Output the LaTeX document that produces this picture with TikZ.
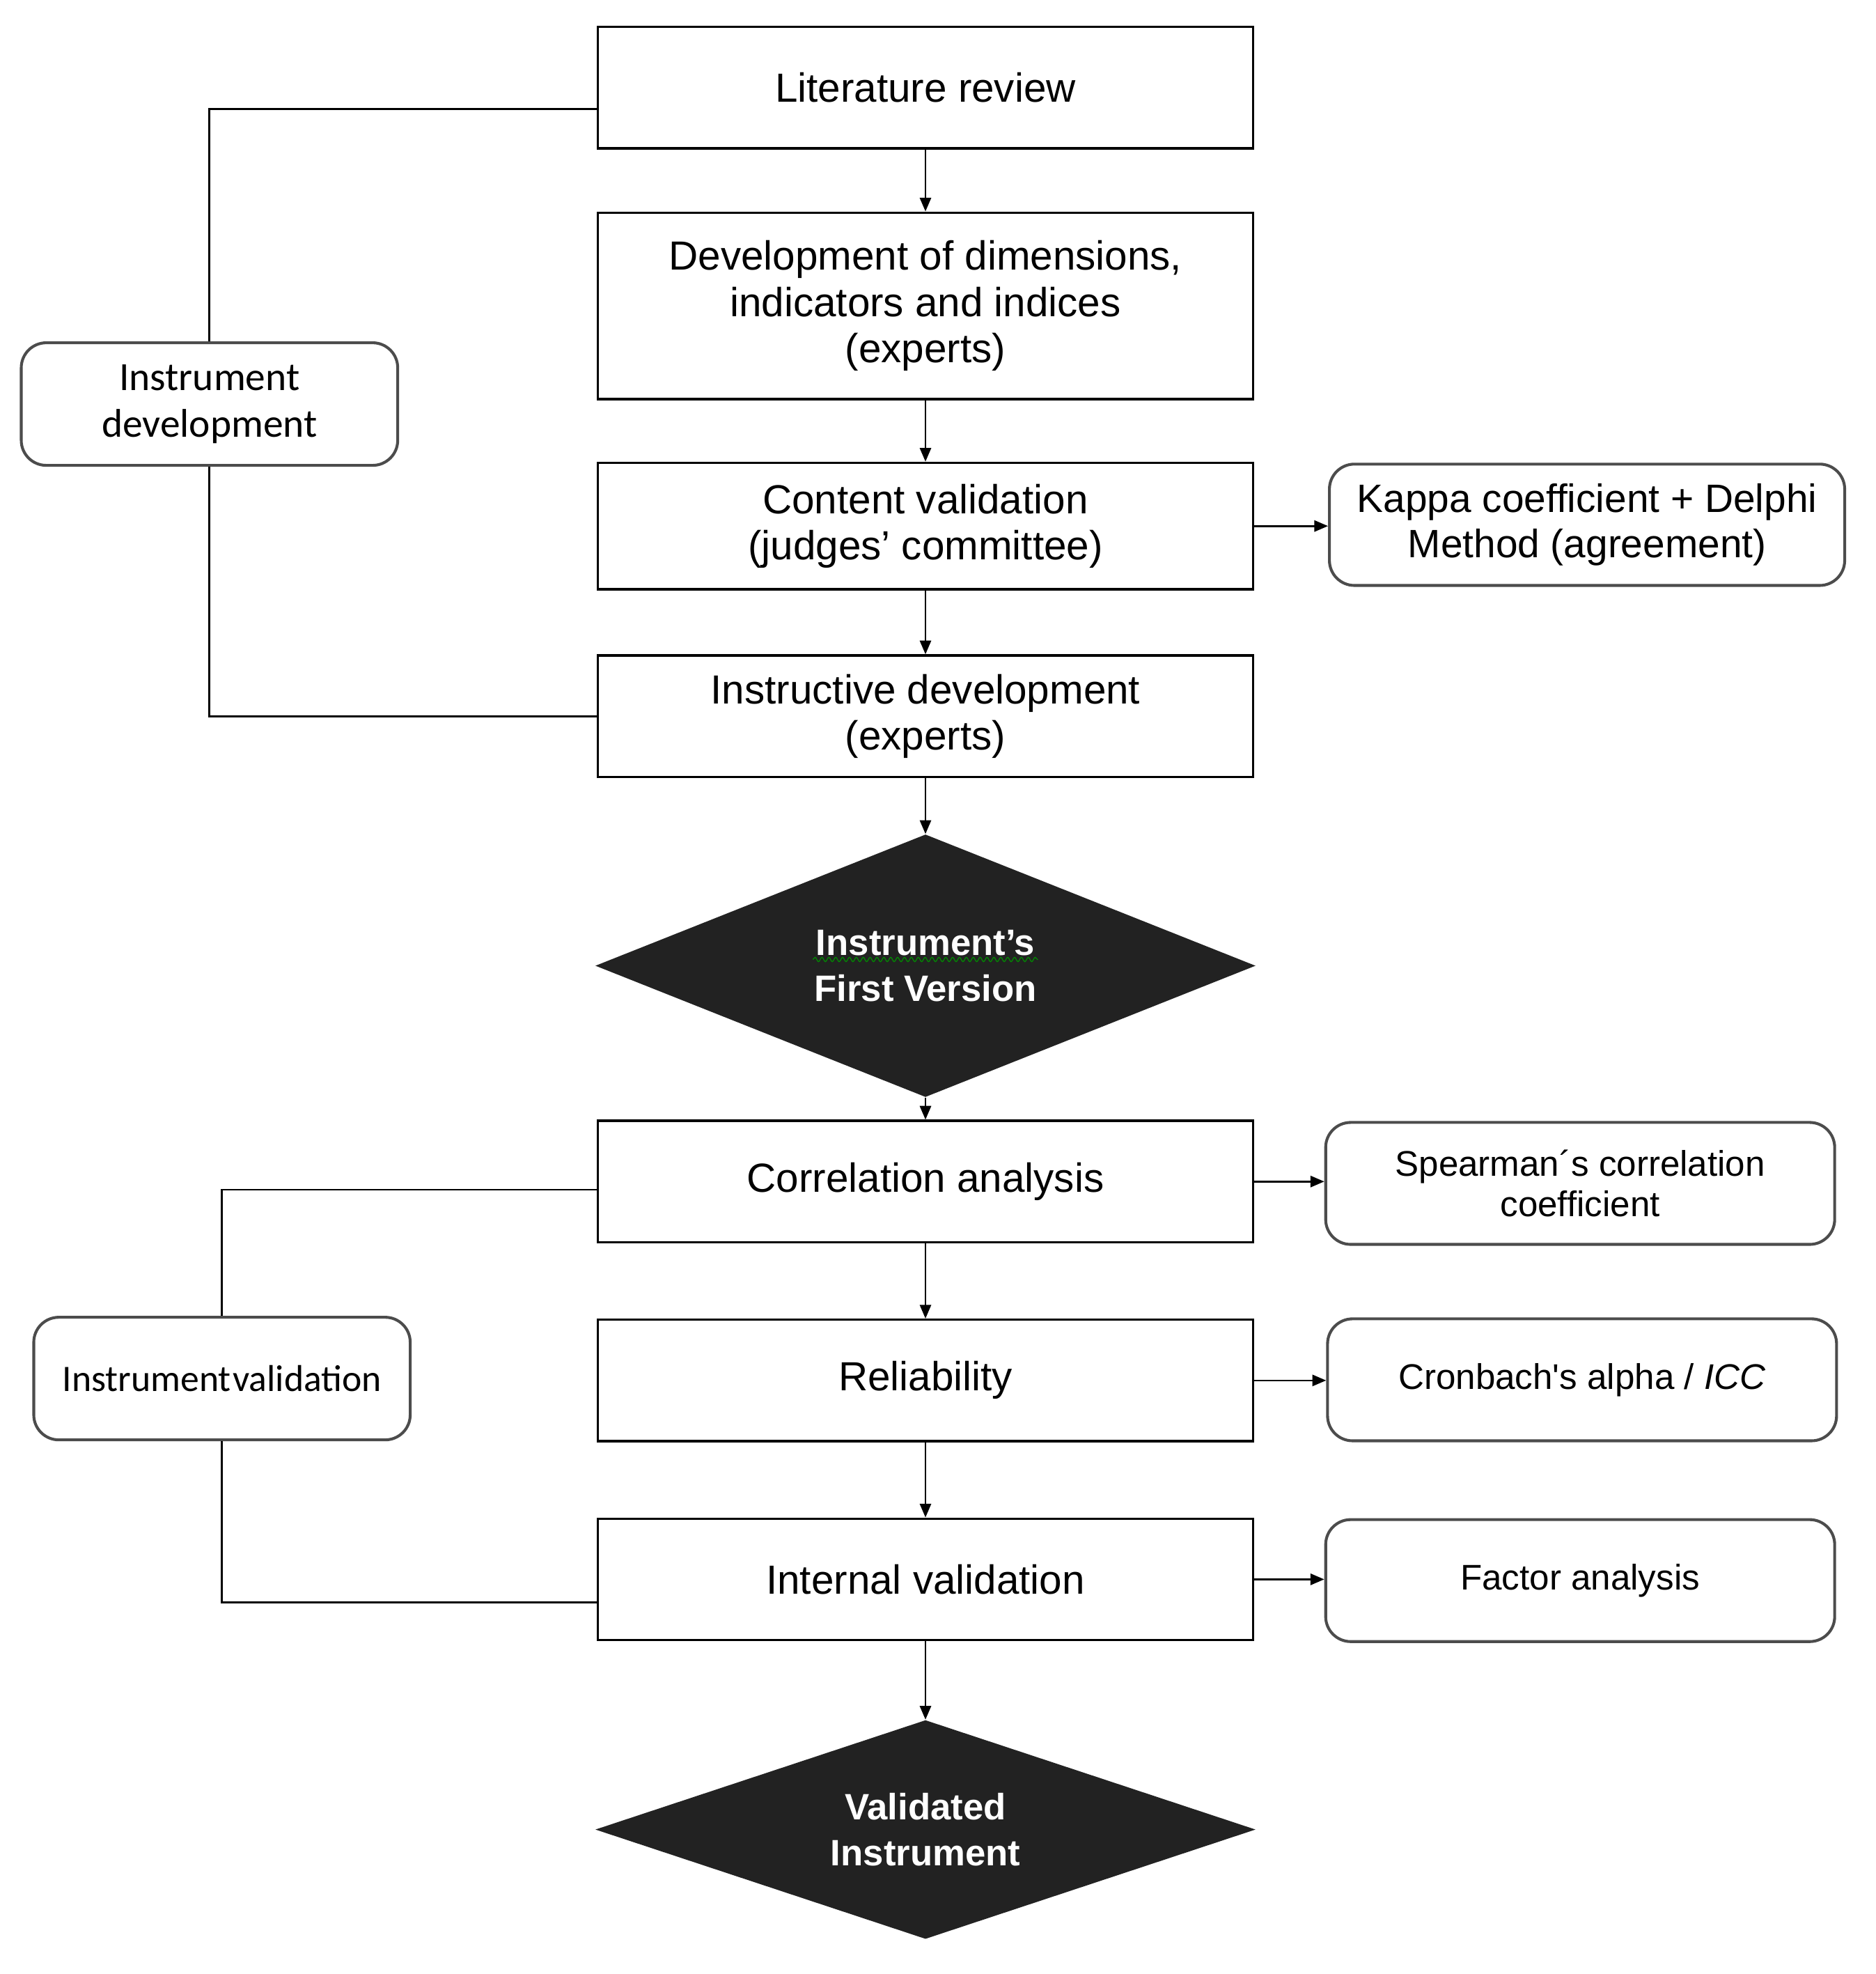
\documentclass[tikz,border=0pt]{standalone}
\usepackage{fontspec}
\setmainfont{Liberation Sans}
\newfontfamily\calib{Carlito}
\usetikzlibrary{shapes.geometric,arrows.meta,calc,decorations.pathmorphing}
\definecolor{dfill}{HTML}{222222}
\begin{document}
\begin{tikzpicture}[x=0.2mm,y=-0.2mm,
  mainbox/.style={draw=black, line width=1.1pt, minimum width=104.8mm, minimum height=19.4mm,
    align=center, inner sep=0pt, font=\fontsize{18.5}{21}\selectfont},
  sidebox/.style={draw=black!70, line width=1.3pt, rounded corners=4mm, align=center,
    inner sep=0pt, minimum width=81.4mm, minimum height=19.5mm, font=\fontsize{16.2}{18.2}\selectfont},
  leftbox/.style={sidebox, minimum width=60.2mm, minimum height=19.6mm},
  decision/.style={diamond, aspect=4, fill=dfill, inner sep=0pt, text=white, align=center,
    minimum width=105.6mm, font=\bfseries\fontsize{16.7}{21}\selectfont},
  link/.style={line width=0.85pt},
  arr/.style={link, -{Triangle[length=2.2mm,width=1.8mm]}},
  spell/.style={draw=green!55!black, line width=0.4pt, decorate,
    decoration={snake, amplitude=0.35mm, segment length=1.1mm}}
]
\useasboundingbox (0,0) rectangle (1500,1578);

% main column
\node[mainbox] (lit) at (740,70) {Literature review};
\node[mainbox, minimum height=29.8mm] (dev) at (740,244.5)
  {Development of dimensions,\\indicators and indices\\(experts)};
\node[mainbox, minimum height=20.2mm] (cont) at (740,420.5)
  {Content validation\\(judges’ committee)};
\node[mainbox] (instr) at (740,572.5) {Instructive development\\(experts)};
\node[decision, minimum height=42mm] (d1) at (740,772) {Instrument’s\\First Version};
\node[mainbox] (corr) at (740,944.5) {Correlation analysis};
\node[mainbox] (rel) at (740,1103.5) {Reliability};
\node[mainbox] (intv) at (740,1262.5) {Internal validation};
\node[decision, minimum height=35mm] (d2) at (740,1462.5) {Validated\\Instrument};

% side boxes (right)
\node[sidebox, minimum width=82.4mm, minimum height=19.4mm, font=\fontsize{18}{20.5}\selectfont]
  (kappa) at (1269,419.5) {Kappa coefficient + Delphi\\Method (agreement)};
\node[sidebox] (spear) at (1263.5,946) {Spearman´s correlation\\coefficient};
\node[sidebox] (cron) at (1265,1103) {Cronbach\textquotesingle s alpha / \textit{ICC}};
\node[sidebox] (fact) at (1263.5,1263.5) {Factor analysis};

% left boxes
\node[leftbox, font=\calib\fontsize{18.2}{21}\selectfont] (idev) at (167.5,323)
  {Instrument\\development};
\node[leftbox, font=\calib\fontsize{17}{21}\selectfont] (ival) at (177.5,1102)
  {Instrument\hspace{0.05em}validation};

% spell-check underline
\draw[spell] ($(d1.center)+(-90,-5)$) -- ($(d1.center)+(90,-5)$);

% vertical flow
\draw[arr] (lit.south) -- (dev.north);
\draw[arr] (dev.south) -- (cont.north);
\draw[arr] (cont.south) -- (instr.north);
\draw[arr] (instr.south) -- (d1.north);
\draw[arr] (d1.south) -- (corr.north);
\draw[arr] (corr.south) -- (rel.north);
\draw[arr] (rel.south) -- (intv.north);
\draw[arr] (intv.south) -- (d2.north);

% horizontal arrows
\draw[arr] (cont.east) -- (cont.east -| kappa.west);
\draw[arr] (corr.east) -- (corr.east -| spear.west);
\draw[arr] (rel.east) -- (rel.east -| cron.west);
\draw[arr] (intv.east) -- (intv.east -| fact.west);

% brackets
\draw[link] ([yshift=-3.4mm]lit.west) -| (idev.north);
\draw[link] (idev.south) |- (instr.west);
\draw[link] ([yshift=-1.3mm]corr.west) -| (ival.north);
\draw[link] (ival.south) |- ([yshift=-3.7mm]intv.west);
\end{tikzpicture}
\end{document}
